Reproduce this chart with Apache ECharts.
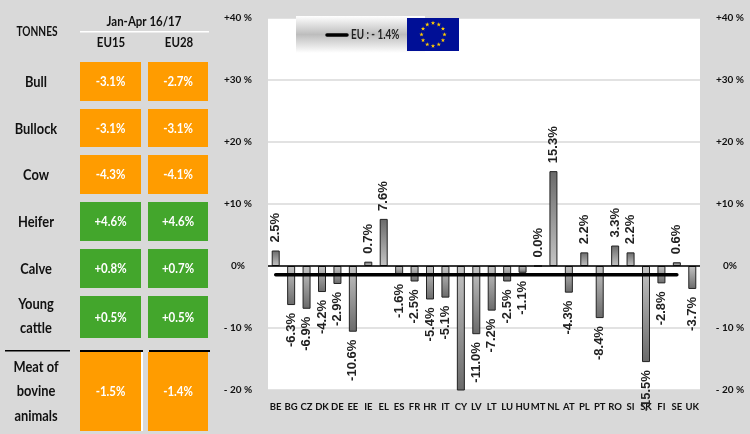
<!DOCTYPE html>
<html><head><meta charset="utf-8">
<style>html,body{margin:0;padding:0;background:#d9d9d9}#c{width:750px;height:434px}</style>
<script src="https://cdn.jsdelivr.net/npm/echarts@6/dist/echarts.min.js"></script>
</head><body><div id="c"></div>
<script>
// ---- data ----
const countries = ['BE','BG','CZ','DK','DE','EE','IE','EL','ES','FR','HR','IT','CY','LV','LT','LU','HU','MT','NL','AT','PL','PT','RO','SI','SK','FI','SE','UK'];
const changes = [2.5,-6.3,-6.9,-4.2,-2.9,-10.6,0.7,7.6,-1.6,-2.5,-5.4,-5.1,-21,-11.0,-7.2,-2.5,-1.1,0.0,15.3,-4.3,2.2,-8.4,3.3,2.2,-15.5,-2.8,0.6,-3.7];
const euAverage = -1.4;
const euLastCountry = 'SE';
const tickLabels = {40:'+40 %',30:'+30 %',20:'+20 %',10:'+10 %',0:'0%','-10':'- 10 %','-20':'- 20 %'};
const rowNames = [['Bull'],['Bullock'],['Cow'],['Heifer'],['Calve'],['Young','cattle'],['Meat of','bovine','animals']];
const eu15 = ['-3.1%','-3.1%','-4.3%','+4.6%','+0.8%','+0.5%','-1.5%'];
const eu28 = ['-2.7%','-3.1%','-4.1%','+4.6%','+0.7%','+0.5%','-1.4%'];
const tableTitle = 'Jan-Apr 16/17', unitTitle = 'TONNES', colTitles = ['EU15','EU28'];
const legendText = 'EU : - 1.4%';

// ---- layout of the side table and legend ----
const FONT = 'Lato, sans-serif';
const rowBox = [[62,101],[109,147],[155,194],[202,241],[249,288],[296,338],[352,431]];
const colBox = [[80,141],[148,208]];
const g = [];
const txt = (x,y,text,size,fill,sx,weight) => g.push({type:'text',x,y,scaleX:sx||1,silent:true,style:{text,fill,font:`${weight||'bold'} ${size}px ${FONT}`,align:'center',verticalAlign:'middle'}});
const rect = (x,y,w,h,fill,z) => g.push({type:'rect',shape:{x,y,width:w,height:h},silent:true,style:{fill},z:z||0});

txt(37,32,unitTitle,13,'#111',0.78);
txt(144,22,tableTitle,13.5,'#111',0.85);
rect(80,31,129,1.5,'#fff');
colTitles.forEach((t,i)=>txt(i?179:111,43,t,13.5,'#111',0.85));
rowNames.forEach((lines,r)=>{
  const [y0,y1] = rowBox[r];
  const lh = 24.5;
  const cy = r===5 ? (y0+y1)/2-1 : (r===6 ? 391 : (y0+y1)/2+0.5);
  lines.forEach((l,k)=>txt(36,cy+(k-(lines.length-1)/2)*lh,l,15.5,'#111',0.83));
  [eu15,eu28].forEach((arr,c)=>{
    const v = arr[r];
    rect(colBox[c][0],y0,colBox[c][1]-colBox[c][0],y1-y0,v[0]==='+'?'#43a62c':'#ff9c00');
    txt((colBox[c][0]+colBox[c][1])/2,(y0+y1)/2+0.5,v,13.5,'#fff',0.85);
  });
});
rect(5,350,65,1.5,'#000');
rect(80,350,63,2,'#000');
rect(149,350,61,2,'#000');
rect(141,352,2,79,'#fff');

// legend box
g.push({type:'rect',shape:{x:296,y:16,width:129,height:37},silent:true,z:5,style:{fill:new echarts.graphic.LinearGradient(0,0,0,1,[{offset:0,color:'#ffffff'},{offset:0.5,color:'#bdbdbd'},{offset:1,color:'#ffffff'}])}});
g.push({type:'line',shape:{x1:327,y1:35,x2:347,y2:35},silent:true,z:6,style:{stroke:'#000',lineWidth:3.5,lineCap:'round'}});
g.push({type:'text',x:351,y:35,scaleX:0.76,silent:true,z:6,style:{text:legendText,fill:'#222',font:`bold 13px ${FONT}`,verticalAlign:'middle',align:'left'}});
g.push({type:'rect',shape:{x:407,y:18,width:52,height:33},silent:true,z:6,style:{fill:'#000f96'}});
for(let i=0;i<12;i++){
  const a=i*Math.PI/6, cx=433+11.5*Math.sin(a), cy=34.5-11.5*Math.cos(a), pts=[];
  for(let k=0;k<10;k++){const r=k%2?0.9:2.3,b=k*Math.PI/5;pts.push([cx+r*Math.sin(b),cy-r*Math.cos(b)]);}
  g.push({type:'polygon',shape:{points:pts},silent:true,z:7,style:{fill:'#ffcc00'}});
}

// ---- chart ----
const barData = changes.map((v,i)=>{
  const neg = v<0, hideLabel = countries[i]==='CY';
  return {
    value:v,
    itemStyle:{color:new echarts.graphic.LinearGradient(0,0,0,1,[
      {offset:0,color:neg?'#c4c4c4':'#6a6a6a'},{offset:1,color:neg?'#6a6a6a':'#c4c4c4'}])},
    label:{show:!hideLabel,position:neg?'bottom':'top',align:neg?'right':'left',verticalAlign:'middle',offset:[1,0]}
  };
});
const lineData = countries.map((c,i)=> i<=countries.indexOf(euLastCountry)?euAverage:null);
const yAxisCommon = {
  type:'value',min:-20,max:40,interval:10,
  axisLine:{show:false},axisTick:{show:false},
  axisLabel:{margin:30,align:'center',color:'#111',fontFamily:FONT,fontWeight:'bold',fontSize:10,formatter:v=>tickLabels[v]}
};
const chart = echarts.init(document.getElementById('c'),null,{renderer:'canvas'});
chart.setOption({
  animation:false,
  backgroundColor:'#d9d9d9',
  graphic:{elements:g},
  grid:{left:268,top:18,width:432,height:372,show:true,backgroundColor:'#fff',borderWidth:0,containLabel:false},
  xAxis:{type:'category',data:countries,axisLine:{onZero:false,show:false},axisTick:{show:false},
    axisLabel:{interval:0,margin:12,color:'#111',fontFamily:FONT,fontWeight:'bold',fontSize:9.5}},
  yAxis:[
    Object.assign({},yAxisCommon,{position:'left',splitLine:{show:true,lineStyle:{color:'#d9d9d9',width:1.5}}}),
    Object.assign({},yAxisCommon,{position:'right',splitLine:{show:false}})
  ],
  series:[
    {type:'bar',data:barData,barWidth:8,yAxisIndex:0,z:3,
      itemStyle:{borderColor:'#222',borderWidth:1},
      label:{show:true,rotate:90,distance:8,color:'#222',fontFamily:'"Liberation Sans",Arial,sans-serif',fontWeight:'bold',fontSize:13,
        formatter:p=>p.value.toFixed(1)+'%'},
      labelLayout:{hideOverlap:false},
      markLine:{silent:true,symbol:'none',label:{show:false},z:4,lineStyle:{color:'#000',width:1.5,type:'solid'},data:[{yAxis:0}]}
    },
    {type:'line',data:lineData,yAxisIndex:0,z:5,symbol:'none',connectNulls:false,
      lineStyle:{color:'#000',width:3.5,cap:'round'},silent:true}
  ]
});
</script></body></html>
